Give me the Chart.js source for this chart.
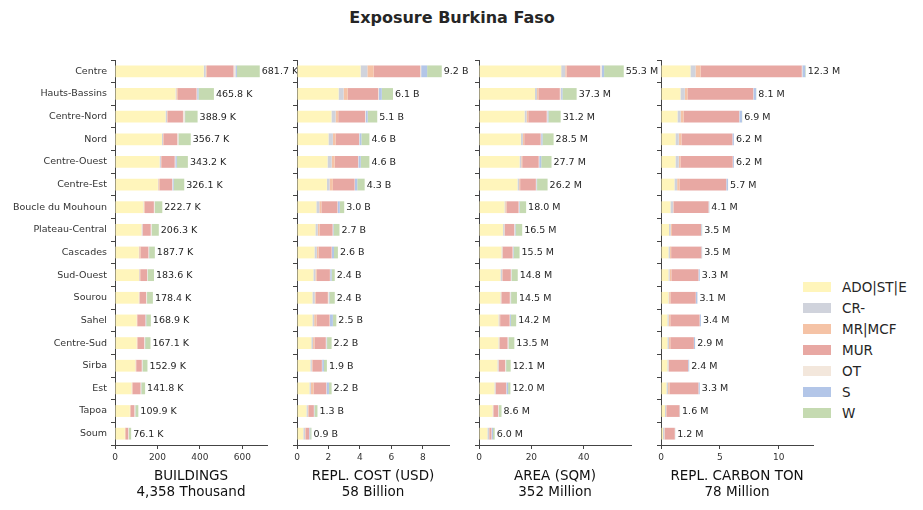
<!DOCTYPE html>
<html><head><meta charset="utf-8">
<script src="https://cdn.jsdelivr.net/npm/chart.js@4.4.1/dist/chart.umd.min.js"></script>
<style>
html,body{margin:0;padding:0;background:#fff;width:923px;height:510px;overflow:hidden;font-family:"DejaVu Sans",sans-serif;}
canvas{position:absolute;top:0;}
#title{position:absolute;left:0;width:904px;top:8px;line-height:20px;text-align:center;font-weight:bold;font-size:16px;color:#262626;}
#legend{position:absolute;left:803px;top:276px;}
.li{height:21.1px;display:flex;align-items:center;font-size:13.5px;color:#262626;}
.sw{width:28px;height:10px;margin-right:11px;}
</style></head>
<body>
<div id="title">Exposure Burkina Faso</div>
<div id="legend"></div>
<script>
// ---------- DATA ----------
const REGIONS = ["Centre","Hauts-Bassins","Centre-Nord","Nord","Centre-Ouest","Centre-Est","Boucle du Mouhoun","Plateau-Central","Cascades","Sud-Ouest","Sourou","Sahel","Centre-Sud","Sirba","Est","Tapoa","Soum"];
const SERIES = ["ADO|ST|E","CR-","MR|MCF","MUR","OT","S","W"];
const COLORS = ["#fff5bb","#d0d3dc","#f5c3a6","#e8a8a3","#f3e7dc","#b3c6e8","#c5dab1"];

// Buildings (thousands), one array per series
const bldADO = [418,285,238,221,210,202,134,125,112,113,112,102,102,96,78,70,46];
const bldCR  = [9,4,7,5,6,2,2,4,2,2,2,1,1,1,2,1,1];
const bldMR  = [5,7,2,2,2,7,4,1,6,4,3,2,3,3,3,4,4];
const bldMUR = [126,88,73,65,63,58,43,38,37,32,29,38,31,26,37,16,11];
const bldOT  = [9,3,8,5,3,2,4,4,3,2,4,1,4,3,3,4,3];
const bldS   = [7,6,2,1,7,5,1,1,1,1,1,3,1,1,1,1,1];
const bldW   = [107.7,72.8,58.9,57.7,52.2,50.1,34.7,33.3,26.7,29.6,27.4,21.9,25.1,22.9,17.8,13.9,10.1];

// Replacement cost (billion USD)
const costADO = [4.04,2.64,2.19,2.0,1.94,1.9,1.23,1.17,1.11,1.04,0.98,0.98,0.91,0.85,0.79,0.60,0.40];
const costCR  = [0.43,0.32,0.26,0.28,0.26,0.17,0.19,0.15,0.15,0.13,0.15,0.11,0.11,0.09,0.09,0.09,0.11];
const costMR  = [0.40,0.26,0.17,0.17,0.19,0.21,0.13,0.11,0.11,0.09,0.06,0.15,0.09,0.04,0.17,0.04,0.04];
const costMUR = [2.96,1.94,1.70,1.49,1.49,1.38,1.02,0.83,0.83,0.83,0.77,0.83,0.72,0.60,0.81,0.34,0.22];
const costOT  = [0.06,0.04,0.04,0.02,0.02,0.02,0.02,0.02,0.02,0.02,0.06,0.02,0.04,0.02,0.02,0.02,0.01];
const costS   = [0.38,0.19,0.13,0.13,0.15,0.15,0.13,0.04,0.13,0.09,0.04,0.19,0.04,0.11,0.15,0.02,0.06];
const costW   = [0.93,0.71,0.61,0.51,0.55,0.47,0.28,0.38,0.25,0.20,0.34,0.22,0.29,0.19,0.17,0.19,0.08];

// Area (million sqm)
const areaADO = [31.4,21.4,17.4,16.0,15.5,14.7,9.74,9.2,8.6,8.2,8.2,7.44,7.44,7.05,5.9,5.2,3.2];
const areaCR  = [1.54,0.77,0.77,0.77,0.64,0.64,0.3,0.5,0.3,0.64,0.26,0.34,0.3,0.38,0.38,0.2,0.64];
const areaMR  = [0.5,0.5,0.64,0.5,0.38,0.38,0.47,0.14,0.2,0.1,0.1,0.3,0.26,0.1,0.1,0.1,0.1];
const areaMUR = [12.8,8.2,7.05,6.28,6.28,6.0,4.6,3.6,3.7,3.2,3.2,3.6,2.9,2.44,4.0,1.8,0.8];
const areaOT  = [0.64,0.5,0.26,0.2,0.2,0.2,0.2,0.2,0.2,0.2,0.3,0.1,0.3,0.3,0.1,0.2,0.1];
const areaS   = [0.9,0.5,0.38,0.5,0.77,0.26,0.2,0.3,0.2,0.1,0.2,0.38,0.1,0.1,0.64,0.1,0.5];
const areaW   = [7.52,5.43,4.7,4.25,3.93,4.02,2.49,2.56,2.3,2.36,2.24,2.04,2.2,1.73,0.88,1.0,0.66];

// Replacement carbon (million ton)
const carbADO = [2.5,1.65,1.4,1.23,1.23,1.14,0.8,0.68,0.63,0.63,0.63,0.54,0.54,0.54,0.46,0.34,0.17];
const carbCR  = [0.43,0.37,0.26,0.28,0.28,0.23,0.23,0.14,0.14,0.11,0.06,0.11,0.14,0.09,0.14,0.09,0.11];
const carbMR  = [0.43,0.23,0.26,0.23,0.14,0.2,0.03,0.11,0.09,0.14,0.11,0.14,0.11,0.03,0.11,0.03,0.03];
const carbMUR = [8.6,5.58,4.72,4.32,4.44,3.97,2.98,2.47,2.57,2.3,2.15,2.49,2.0,1.64,2.47,1.11,0.86];
const carbOT  = [0.05,0.02,0.02,0.01,0.01,0.01,0.01,0.01,0.01,0.01,0.01,0.01,0.01,0.01,0.01,0.01,0.01];
const carbS   = [0.24,0.23,0.22,0.12,0.09,0.14,0.05,0.05,0.05,0.1,0.13,0.1,0.09,0.08,0.1,0.03,0.02];
const carbW   = [0.05,0.02,0.02,0.01,0.01,0.01,0.01,0.04,0.01,0.01,0.01,0.01,0.01,0.01,0.01,0.01,0.01];

const AXIS_TITLES = [["BUILDINGS","4,358 Thousand"],["REPL. COST (USD)","58 Billion"],["AREA (SQM)","352 Million"],["REPL. CARBON TON","78 Million"]];
const SUFFIXES = [" K"," B"," M"," M"];
const STEPS = [200,2,20,5];

// ---------- LAYOUT ----------
const FONT = '"DejaVu Sans", sans-serif';
Chart.defaults.font.family = FONT;
Chart.defaults.color = '#333';
const AXIS_LEFT = [115,297,479,661];
const AXIS_W = 152;
const PAD_R = 60;

const panelData = [
  [bldADO,bldCR,bldMR,bldMUR,bldOT,bldS,bldW],
  [costADO,costCR,costMR,costMUR,costOT,costS,costW],
  [areaADO,areaCR,areaMR,areaMUR,areaOT,areaS,areaW],
  [carbADO,carbCR,carbMR,carbMUR,carbOT,carbS,carbW]
];

const totalsPlugin = {
  id:'totals',
  afterDatasetsDraw(chart, args, opts){
    const ctx = chart.ctx, xs = chart.scales.x, ys = chart.scales.y;
    ctx.save();
    ctx.font = '9.5px ' + FONT;
    ctx.fillStyle = '#262626';
    ctx.textBaseline = 'middle';
    ctx.textAlign = 'left';
    REGIONS.forEach((r,i)=>{
      const tot = chart.data.datasets.reduce((a,d)=>a+d.data[i],0);
      ctx.fillText(tot.toFixed(1)+opts.suffix, xs.getPixelForValue(tot)+2, ys.getPixelForValue(i)+0.5);
    });
    ctx.restore();
  }
};

panelData.forEach((series, p)=>{
  const yw = p===0 ? 115 : 8;
  const step = STEPS[p];
  const cv = document.createElement('canvas');
  const w = yw + AXIS_W + PAD_R;
  cv.width = w; cv.height = 510;
  cv.style.width = w+'px'; cv.style.height = '510px';
  cv.style.left = (AXIS_LEFT[p]-yw)+'px';
  document.body.appendChild(cv);
  const totals = REGIONS.map((r,i)=>series.reduce((a,s)=>a+s[i],0));
  const maxX = Math.max(...totals)*1.05;
  new Chart(cv, {
    type:'bar',
    data:{
      labels: REGIONS,
      datasets: SERIES.map((name,k)=>({
        label:name, data:series[k], backgroundColor:COLORS[k], borderWidth:0,
        barPercentage:0.52, categoryPercentage:1.0
      }))
    },
    options:{
      indexAxis:'y', responsive:false, animation:false, devicePixelRatio:1,
      layout:{padding:{top:60,bottom:10,left:0,right:PAD_R}},
      plugins:{legend:{display:false}, tooltip:{enabled:false}, totals:{suffix:SUFFIXES[p]}},
      scales:{
        x:{
          stacked:true, min:0, max:maxX,
          grid:{drawOnChartArea:false, drawTicks:true, tickLength:4, color:'#444', tickWidth:1},
          border:{display:true, color:'#444', width:1},
          ticks:{stepSize:step, includeBounds:false, padding:3, font:{size:9}, color:'#333', maxRotation:0, autoSkip:false},
          title:{display:true, text:AXIS_TITLES[p], font:{size:13.5, lineHeight:1.15}, color:'#111', padding:0},
          afterBuildTicks(s){
            s.ticks = s.ticks.filter(t => Math.abs(t.value/step - Math.round(t.value/step)) < 1e-6);
          },
          afterFit(s){ s.height = 55; }
        },
        y:{
          stacked:true,
          grid:{drawOnChartArea:false, drawTicks:true, tickLength:4, color:'#444'},
          border:{display:true, color:'#444', width:1},
          ticks:{display:p===0, padding:4, font:{size:9.5}, color:'#333', autoSkip:false},
          afterFit(s){ s.width = yw; }
        }
      }
    },
    plugins:[totalsPlugin]
  });
});

// legend
const lg = document.getElementById('legend');
SERIES.forEach((name,k)=>{
  const d = document.createElement('div'); d.className='li';
  const sw = document.createElement('div'); sw.className='sw'; sw.style.background = COLORS[k];
  const t = document.createElement('span'); t.textContent = name;
  d.appendChild(sw); d.appendChild(t); lg.appendChild(d);
});
</script>
</body></html>
